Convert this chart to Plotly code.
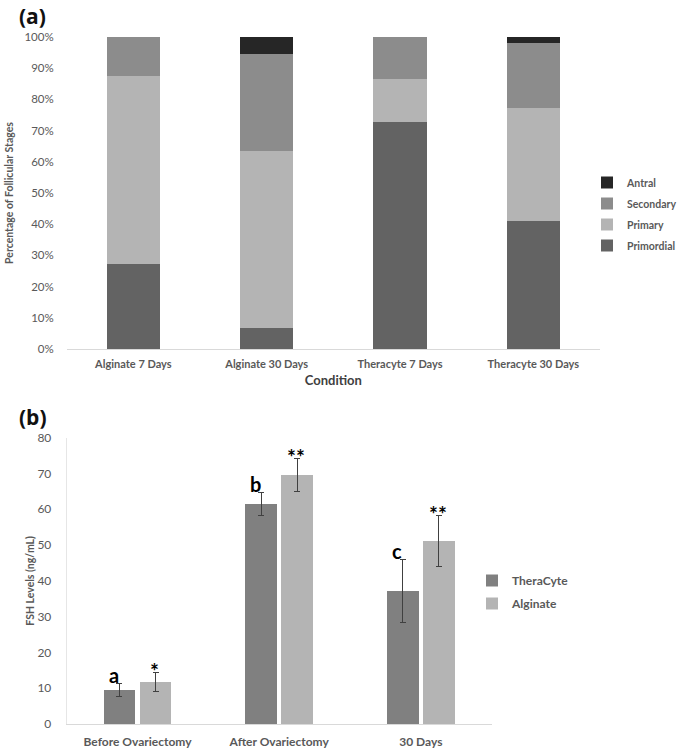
import plotly.graph_objects as go

# ---------- Panel (a) data ----------
conditions = ["Alginate 7 Days", "Alginate 30 Days", "Theracyte 7 Days", "Theracyte 30 Days"]
primordial = [0.273, 0.066, 0.727, 0.409]
primary = [0.602, 0.570, 0.137, 0.364]
secondary = [0.125, 0.308, 0.136, 0.209]
antral = [0.0, 0.056, 0.0, 0.018]
stage_names = ["Primordial", "Primary", "Secondary", "Antral"]
stage_colors = ["#636363", "#b4b4b4", "#8c8c8c", "#262626"]
stage_legend_rank = [4, 3, 2, 1]
pct_ticks = [0, 0.1, 0.2, 0.3, 0.4, 0.5, 0.6, 0.7, 0.8, 0.9, 1.0]

# ---------- Panel (b) data ----------
timepoints = ["Before Ovariectomy", "After Ovariectomy", "30 Days"]
theracyte_fsh = [9.6, 61.5, 37.2]
theracyte_err = [1.8, 3.2, 8.8]
alginate_fsh = [11.7, 69.6, 51.2]
alginate_err = [2.7, 4.6, 7.2]
theracyte_marks = ["a", "b", "c"]
alginate_marks = ["*", "**", "**"]
fsh_ticks = [0, 10, 20, 30, 40, 50, 60, 70, 80]

FONT = "Lato, 'Open Sans', sans-serif"
TICK = "#595959"

fig = go.Figure()

for name, vals, col, rk in zip(stage_names, [primordial, primary, secondary, antral], stage_colors, stage_legend_rank):
    fig.add_trace(go.Bar(
        x=conditions, y=vals, name="<b>%s</b>" % name, marker=dict(color=col, line=dict(width=0)),
        width=0.4, xaxis="x", yaxis="y", legend="legend", offsetgroup="stk",
        legendgroup=name, legendrank=rk, hoverinfo="skip"))

fig.add_trace(go.Bar(
    x=timepoints, y=theracyte_fsh, name="<b>TheraCyte</b>", marker=dict(color="#808080", line=dict(width=0)),
    error_y=dict(type="data", array=theracyte_err, color="#404040", thickness=1, width=3),
    xaxis="x2", yaxis="y2", legend="legend2", offsetgroup="T", legendgroup="T", legendrank=1))
fig.add_trace(go.Bar(
    x=timepoints, y=alginate_fsh, name="<b>Alginate</b>", marker=dict(color="#b4b4b4", line=dict(width=0)),
    error_y=dict(type="data", array=alginate_err, color="#404040", thickness=1, width=3),
    xaxis="x2", yaxis="y2", legend="legend2", offsetgroup="A", legendgroup="A", legendrank=2))

annotations = [
    dict(text="<b>(a)</b>", x=17 / 680, y=1.0, xref="paper", yref="paper", showarrow=False,
         xanchor="left", yanchor="top", font=dict(size=21, color="#111111", family="'Open Sans', sans-serif")),
    dict(text="<b>(b)</b>", x=17 / 680, y=1 - 401 / 750, xref="paper", yref="paper", showarrow=False,
         xanchor="left", yanchor="top", font=dict(size=21, color="#111111", family="'Open Sans', sans-serif")),
]
for tp, v, e, m in zip(timepoints, theracyte_fsh, theracyte_err, theracyte_marks):
    annotations.append(dict(text="<b>%s</b>" % m, x=tp, y=v + e, xref="x2", yref="y2", showarrow=False,
                            xanchor="center", yanchor="bottom", xshift=-24, yshift=-6,
                            font=dict(size=20, color="#000000", family=FONT)))
for tp, v, e, m in zip(timepoints, alginate_fsh, alginate_err, alginate_marks):
    annotations.append(dict(text="<b>%s</b>" % m, x=tp, y=v + e, xref="x2", yref="y2", showarrow=False,
                            xanchor="center", yanchor="bottom", xshift=17, yshift=-13,
                            font=dict(size=21, color="#000000", family=FONT)))

fig.update_layout(
    width=680, height=750,
    margin=dict(l=0, r=0, t=0, b=0, autoexpand=False),
    paper_bgcolor="white", plot_bgcolor="white",
    barmode="stack", bargap=0.49, bargroupgap=0.12,
    font=dict(family=FONT, color=TICK),
    showlegend=True,
    xaxis=dict(domain=[66.7 / 680, 600 / 680], anchor="y", showgrid=False, automargin=False,
               showline=True, linecolor="#d9d9d9", linewidth=1, ticks="",
               tickfont=dict(size=11, color=TICK, family=FONT), ticklabelstandoff=5,
               tickprefix="<b>", ticksuffix="</b>",
               title=dict(text="<b>Condition</b>", font=dict(size=13, color="#404040"), standoff=6)),
    yaxis=dict(domain=[1 - 349 / 750, 1 - 37 / 750], anchor="x", range=[0, 1], tickvals=pct_ticks,
               tickformat=".0%", showgrid=False, zeroline=False, showline=False, ticks="", automargin=False,
               tickfont=dict(size=11.5, color=TICK, family=FONT), ticklabelstandoff=12,
               title=dict(text="<b>Percentage of Follicular Stages</b>", font=dict(size=10.5, color=TICK), standoff=8)),
    xaxis2=dict(domain=[66.7 / 680, 491.7 / 680], anchor="y2", showgrid=False, automargin=False,
                showline=True, linecolor="#d9d9d9", linewidth=1, ticks="",
                tickfont=dict(size=12, color=TICK, family=FONT), ticklabelstandoff=7,
                tickprefix="<b>", ticksuffix="</b>"),
    yaxis2=dict(domain=[1 - 724 / 750, 1 - 437.7 / 750], anchor="x2", range=[0, 80], tickvals=fsh_ticks,
                showgrid=False, zeroline=False, showline=True, linecolor="#e6e6e6", linewidth=1, ticks="",
                automargin=False,
                tickfont=dict(size=12, color=TICK, family=FONT), ticklabelstandoff=12,
                title=dict(text="<b>FSH Levels (ng/mL)</b>", font=dict(size=10.5, color=TICK), standoff=0)),
    legend=dict(x=587 / 680, y=1 - 168 / 750, xanchor="left", yanchor="top",
                traceorder="grouped", font=dict(size=10.5, color=TICK, family=FONT),
                itemwidth=30, tracegroupgap=2, bgcolor="rgba(0,0,0,0)"),
    legend2=dict(x=472 / 680, y=1 - 566 / 750, xanchor="left", yanchor="top",
                 traceorder="grouped", font=dict(size=12, color=TICK, family=FONT),
                 itemwidth=30, tracegroupgap=4, bgcolor="rgba(0,0,0,0)"),
    annotations=annotations,
)

fig.write_html("out.html", config={"displayModeBar": False},
               post_script="document.body.style.margin='0';document.body.style.padding='0';")
